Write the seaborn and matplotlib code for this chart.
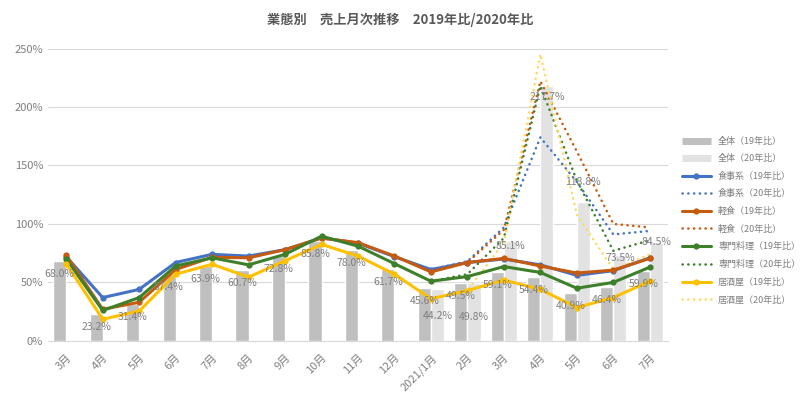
import numpy as np
import pandas as pd
import matplotlib
matplotlib.use("Agg")
import matplotlib.pyplot as plt
from matplotlib.lines import Line2D
import seaborn as sns

months = ["3月", "4月", "5月", "6月", "7月", "8月", "9月", "10月", "11月", "12月",
          "2021/1月", "2月", "3月", "4月", "5月", "6月", "7月"]
nan = np.nan

total_19 = [68.0, 23.2, 31.4, 57.4, 63.9, 60.7, 72.8, 85.8, 78.0, 61.7,
            45.6, 49.5, 59.1, 54.4, 40.9, 46.4, 59.9]
total_20 = [nan] * 10 + [44.2, 49.8, 85.1, 217.7, 118.8, 73.5, 84.5]

meal_19 = [72, 37, 44, 67, 74, 72.5, 78, 88, 83.5, 72, 61, 67, 70, 65, 56, 60, 71]
meal_20 = [nan] * 10 + [61, 68, 97, 174, 136, 91, 94]
light_19 = [73, 27, 33, 61, 71.5, 71, 78, 88, 84, 72.5, 59, 67, 70.5, 64, 58, 60.5, 70.5]
light_20 = [nan] * 10 + [59, 67, 95, 222, 162, 100, 97]
special_19 = [70, 26, 37, 64, 71, 65, 74, 89.5, 81, 66, 51, 55, 63.5, 58.5, 45, 50, 63]
special_20 = [nan] * 10 + [51, 57, 88, 218, 137, 77, 86]
izakaya_19 = [66, 18.5, 25.5, 57, 65.5, 54.5, 68.5, 82.5, 72.5, 57, 36, 43, 52, 44, 28.5, 37, 51]
izakaya_20 = [nan] * 10 + [36, 43, 84, 245, 108, 61, 74]

# label offsets below the bar top, in pixels
dark_dy = [13] * 17
light_dy = [0] * 10 + [27, 34, 5, 11, -20, 3, 0]

sns.set_style("white")
plt.rcParams["font.family"] = ["Noto Sans CJK JP", "DejaVu Sans"]

fig = plt.figure(figsize=(8, 4.01), dpi=100)
ax = fig.add_axes([0.06, 0.15, 0.775, 0.729])

bars = pd.DataFrame({
    "month": list(range(17)) * 2,
    "series": ["全体（19年比）"] * 17 + ["全体（20年比）"] * 17,
    "value": total_19 + total_20,
})
sns.barplot(data=bars, x="month", y="value", hue="series",
            palette=["#BFBFBF", "#E2E2E2"], width=0.72, dodge=True,
            saturation=1, legend=False, ax=ax, zorder=2)

x = np.arange(len(months))
solid = [("食事系", meal_19, meal_20, "#4472C4", "#4472C4"),
         ("軽食", light_19, light_20, "#C55A11", "#C55A11"),
         ("専門料理", special_19, special_20, "#3E7F2A", "#3E7F2A"),
         ("居酒屋", izakaya_19, izakaya_20, "#FFC000", "#FFD966")]

handles = [Line2D([], [], color="#BFBFBF", lw=5, solid_capstyle="butt"),
           Line2D([], [], color="#E2E2E2", lw=5, solid_capstyle="butt")]
labels = ["全体（19年比）", "全体（20年比）"]

for name, v19, v20, c19, c20 in solid:
    sns.lineplot(x=x, y=v19, color=c19, lw=2.2, marker="o", markersize=4.5,
                 markeredgewidth=0, ax=ax, zorder=4)
    sns.lineplot(x=x, y=v20, color=c20, lw=1.8, ls=(0, (0.1, 2.2)),
                 dash_capstyle="round", ax=ax, zorder=3)
    handles.append(Line2D([], [], color=c19, lw=2.2, marker="o", markersize=4.5,
                          markeredgewidth=0))
    handles.append(Line2D([], [], color=c20, lw=1.8, ls=(0, (0.1, 2.2)),
                          dash_capstyle="round"))
    labels += [name + "（19年比）", name + "（20年比）"]

for container, vals, dys in zip(ax.containers, [total_19, total_20], [dark_dy, light_dy]):
    kept = [(v, dy) for v, dy in zip(vals, dys) if not np.isnan(v)]
    for bar, (v, dy) in zip(container, kept):
        ax.annotate(f"{v:.1f}%", (bar.get_x() + bar.get_width() / 2, v),
                    xytext=(0, -dy * 0.72), textcoords="offset points",
                    ha="center", va="center", fontsize=7.5, color="#7F7F7F",
                    zorder=6)

ax.set_xlim(-0.5, 16.5)
ax.set_ylim(0, 250)
ax.set_yticks(range(0, 251, 50))
ax.set_yticklabels([f"{v}%" for v in range(0, 251, 50)])
ax.set_xticks(x)
ax.set_xticklabels(months, rotation=45, ha="right", rotation_mode="anchor")
ax.tick_params(axis="both", colors="#7F7F7F", labelsize=8, length=0)
ax.tick_params(axis="x", pad=8)
ax.set_xlabel("")
ax.set_ylabel("")
ax.grid(axis="y", color="#D9D9D9", lw=0.8, zorder=0)
ax.set_axisbelow(True)
for s in ["top", "right", "left"]:
    ax.spines[s].set_visible(False)
ax.spines["bottom"].set_color("#D9D9D9")

fig.text(0.5, 0.95, "業態別　売上月次推移　2019年比/2020年比", ha="center",
         va="center", fontsize=9.5, fontweight="bold", color="#595959")

fig.legend(handles, labels, loc="upper left", bbox_to_anchor=(0.848, 0.668),
           frameon=False, fontsize=6.5, handlelength=3.2, labelspacing=0.95,
           labelcolor="#7F7F7F", borderaxespad=0)

fig.savefig("out.png", dpi=100)
